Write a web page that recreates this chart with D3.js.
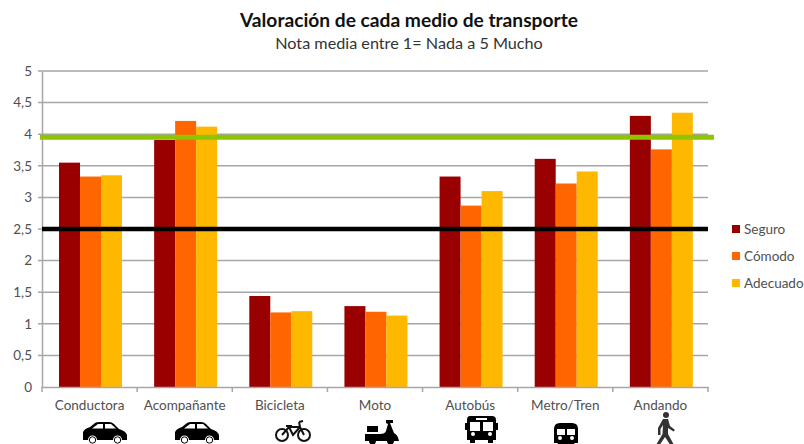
<!DOCTYPE html>
<html>

<head>
    <meta charset="utf-8">
    <title>Valoración de cada medio de transporte</title>
    <script src="https://d3js.org/d3.v7.min.js"></script>
    <style>
        body {
            margin: 0;
            background: #fff;
        }

        svg {
            display: block;
        }

        text {
            font-family: Lato, "Open Sans", sans-serif;
        }

        .tick-label {
            font-size: 13.5px;
            fill: #505050;
        }

        .legend-label {
            font-size: 13.5px;
            fill: #505050;
        }
    </style>
</head>

<body>
    <svg id="chart" width="804" height="444"></svg>

    <script>
        const categories = ["Conductora", "Acompañante", "Bicicleta", "Moto", "Autobús", "Metro/Tren", "Andando"];
        const seriesNames = ["Seguro", "Cómodo", "Adecuado"];
        const seguro = [3.55, 3.91, 1.44, 1.28, 3.33, 3.61, 4.29];
        const comodo = [3.33, 4.21, 1.18, 1.19, 2.87, 3.22, 3.76];
        const adecuado = [3.35, 4.12, 1.2, 1.13, 3.1, 3.41, 4.34];
        const yTicks = [0, 0.5, 1, 1.5, 2, 2.5, 3, 3.5, 4, 4.5, 5];
        const colors = ["#990000", "#ff6600", "#ffb800"];
        const greenLevel = 3.95;
        const blackLevel = 2.5;

        const svg = d3.select("#chart");
        const margin = { top: 71, left: 42, right: 96, bottom: 57 };
        const width = +svg.attr("width");
        const height = +svg.attr("height");

        const xScale = d3.scaleBand()
            .domain(categories)
            .range([margin.left, width - margin.right]);
        const groupScale = d3.scaleBand()
            .domain(seriesNames)
            .range([17, 80]);
        const yScale = d3.scaleLinear()
            .domain([0, 5])
            .range([height - margin.bottom, margin.top]);

        // title
        svg.append("text")
            .attr("x", 409).attr("y", 27)
            .attr("text-anchor", "middle")
            .style("font-size", "19.2px").style("font-weight", "bold").style("fill", "#111")
            .text("Valoración de cada medio de transporte");
        svg.append("text")
            .attr("x", 409).attr("y", 49)
            .attr("text-anchor", "middle")
            .style("font-size", "16.2px").style("fill", "#333")
            .text("Nota media entre 1= Nada a 5 Mucho");

        // gridlines
        svg.append("g").selectAll("line")
            .data(yTicks.filter(d => d > 0))
            .enter().append("line")
            .attr("x1", margin.left - 4).attr("x2", width - margin.right)
            .attr("y1", d => yScale(d)).attr("y2", d => yScale(d))
            .attr("stroke", "#a6a6a6").attr("stroke-width", 1.5);

        // y axis
        const yAxis = d3.axisLeft(yScale)
            .tickValues(yTicks)
            .tickSize(0)
            .tickPadding(10)
            .tickFormat(d => String(d).replace(".", ","));
        const yG = svg.append("g")
            .attr("transform", `translate(${margin.left},0)`)
            .call(yAxis);
        yG.select(".domain").attr("stroke", "#a6a6a6").attr("stroke-width", 1.5);
        yG.selectAll("text").attr("class", "tick-label");

        // bars
        const allSeries = [seguro, comodo, adecuado];
        allSeries.forEach((values, i) => {
            svg.append("g").selectAll("rect")
                .data(values)
                .enter().append("rect")
                .attr("x", (d, j) => xScale(categories[j]) + groupScale(seriesNames[i]))
                .attr("width", groupScale.bandwidth())
                .attr("y", d => yScale(d))
                .attr("height", d => yScale(0) - yScale(d))
                .attr("fill", colors[i]);
        });

        // x axis
        const xAxis = d3.axisBottom(xScale).tickSize(0).tickPadding(13);
        const xG = svg.append("g")
            .attr("transform", `translate(0,${yScale(0)})`)
            .call(xAxis);
        xG.select(".domain").attr("stroke", "#a6a6a6").attr("stroke-width", 1.5);
        xG.selectAll("text").attr("class", "tick-label");
        svg.append("g").selectAll("line")
            .data(d3.range(categories.length + 1))
            .enter().append("line")
            .attr("x1", d => margin.left + d * xScale.step())
            .attr("x2", d => margin.left + d * xScale.step())
            .attr("y1", yScale(0)).attr("y2", yScale(0) + 5)
            .attr("stroke", "#a6a6a6").attr("stroke-width", 1.5);

        // reference lines
        svg.append("line")
            .attr("x1", margin.left - 2).attr("x2", 714)
            .attr("y1", yScale(greenLevel)).attr("y2", yScale(greenLevel))
            .attr("stroke", "#8fc400").attr("stroke-width", 5);
        svg.append("line")
            .attr("x1", margin.left).attr("x2", width - margin.right)
            .attr("y1", yScale(blackLevel)).attr("y2", yScale(blackLevel))
            .attr("stroke", "#000").attr("stroke-width", 4.5);

        // legend
        const legend = svg.append("g").selectAll("g")
            .data(seriesNames)
            .enter().append("g")
            .attr("transform", (d, i) => `translate(732,${229 + i * 27})`);
        legend.append("rect")
            .attr("x", 0).attr("y", -4)
            .attr("width", 8).attr("height", 8)
            .attr("fill", (d, i) => colors[i]);
        legend.append("text")
            .attr("class", "legend-label")
            .attr("x", 12).attr("y", 5)
            .text(d => d);

        // icons, drawn in their own local coordinates and placed under each category
        function drawCar(g) {
            g.append("path").attr("fill", "#000").attr("fill-rule", "evenodd")
                .attr("d", "M0 11 C0 8 4 6 7 5 L12 1 Q13.5 0 16 0 L26 0 Q29 0 31 2 L36 7 Q43 9 44 13 L44 18 L39 18 A4.5 4.5 0 0 0 30 18 L14 18 A4.5 4.5 0 0 0 5 18 L0 18 Z M15 2 L9 6.5 L20 6.5 L20 2 Z M22 2 L22 6.5 L33 6.5 L28 2 Z");
            g.selectAll("circle").data([9.5, 34.5]).enter().append("circle")
                .attr("cx", d => d).attr("cy", 18).attr("r", 3.2)
                .attr("fill", "#fff").attr("stroke", "#000").attr("stroke-width", 1);
        }

        function drawBike(g) {
            const s = g.append("g").attr("fill", "none").attr("stroke", "#111").attr("stroke-width", 2);
            s.append("circle").attr("cx", 7).attr("cy", 14).attr("r", 6);
            s.append("circle").attr("cx", 29).attr("cy", 14).attr("r", 6);
            s.append("path").attr("d", "M7 14 L14 6 L25 6 L29 14 M14 6 L18 14 L25 6 M24 1 L25 6 M24 1 L28 0 M11 5 L17 5");
        }

        function drawMoto(g) {
            g.append("path").attr("fill", "#000").attr("fill-rule", "evenodd")
                .attr("d", "M21 0 L28 0 L28 3 L25 3 L29 13 Q33 15 34 21 L29 21 A3.5 3.5 0 0 1 22 21 L11 21 A3.5 3.5 0 0 1 4 21 L0 21 L0 14 L15 14 Q20 14 21 11 L23 4 L21 3 Z M2 6 L13 6 L13 12 L2 12 Z");
        }

        function drawBus(g) {
            g.append("path").attr("fill", "#000").attr("fill-rule", "evenodd")
                .attr("d", "M4 0 L26 0 Q30 0 30 4 L30 7 L32 7 L32 14 L30 14 L30 24 L27 24 L27 27 L22 27 L22 24 L9 24 L9 27 L4 27 L4 24 L1 24 L1 14 L-1 14 L-1 7 L1 7 L1 4 Q1 0 4 0 Z M4 6 L14 6 L14 15 L4 15 Z M17 6 L27 6 L27 15 L17 15 Z M10 2 L21 2 L21 4 L10 4 Z M5 18 a2 2 0 1 0 4 0 a2 2 0 1 0 -4 0 Z M22 18 a2 2 0 1 0 4 0 a2 2 0 1 0 -4 0 Z");
        }

        function drawMetro(g) {
            g.append("path").attr("fill", "#000").attr("fill-rule", "evenodd")
                .attr("d", "M6 0 L18 0 Q24 0 24 6 L24 20 L20 20 L23 24 L19 24 L17 21 L7 21 L5 24 L1 24 L4 20 L0 20 L0 6 Q0 0 6 0 Z M3 6 L11 6 L11 12 L3 12 Z M13 6 L21 6 L21 12 L13 12 Z M4 15 a2 2 0 1 0 4 0 a2 2 0 1 0 -4 0 Z M16 15 a2 2 0 1 0 4 0 a2 2 0 1 0 -4 0 Z");
        }

        function drawWalker(g) {
            g.append("circle").attr("cx", 11).attr("cy", 3).attr("r", 3).attr("fill", "#333");
            g.append("path").attr("fill", "#333")
                .attr("d", "M8 7 L13 7 L15 14 L20 18 L18.5 19.5 L13 16 L13 22 L19 33 L16 34 L10 25 L4 34 L1 33 L7.5 22 L8 13 L5.5 17 L5.5 23 L3 23 L3 16 Z");
        }

        const icons = [
            { draw: drawCar, x: 83, y: 422 },
            { draw: drawCar, x: 175, y: 422 },
            { draw: drawBike, x: 275, y: 421 },
            { draw: drawMoto, x: 365, y: 420 },
            { draw: drawBus, x: 466, y: 416 },
            { draw: drawMetro, x: 554, y: 423 },
            { draw: drawWalker, x: 655, y: 412 }
        ];
        icons.forEach(icon => {
            icon.draw(svg.append("g").attr("transform", `translate(${icon.x},${icon.y})`));
        });
    </script>
</body>

</html>
